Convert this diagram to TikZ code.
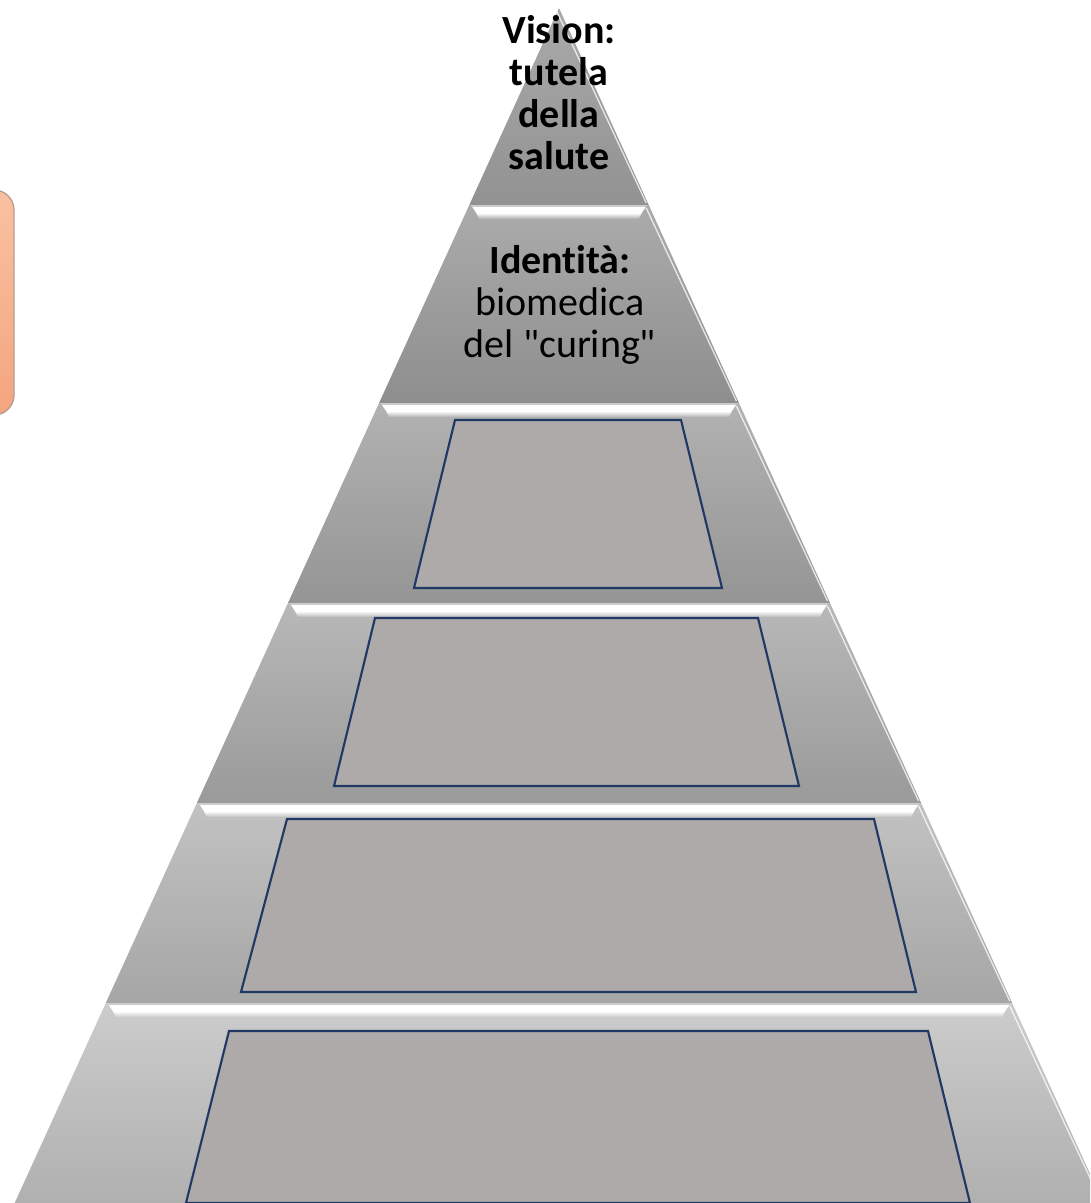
\documentclass[tikz,border=0pt]{standalone}
\usepackage{fontspec}
\setmainfont{Carlito}[Ligatures={TeX,NoCommon}]
\newfontfamily\carlplain{Carlito}[Ligatures=NoCommon]
\definecolor{navy}{HTML}{1F3864}
\definecolor{boxgray}{HTML}{AEAAAA}
\definecolor{bt1}{HTML}{AAAAAA}\definecolor{bb1}{HTML}{929292}
\definecolor{bt2}{HTML}{ABABAB}\definecolor{bb2}{HTML}{8E8E8E}
\definecolor{bt3}{HTML}{B2B2B2}\definecolor{bb3}{HTML}{959595}
\definecolor{bt4}{HTML}{B8B8B8}\definecolor{bb4}{HTML}{9A9A9A}
\definecolor{bt5}{HTML}{C2C2C2}\definecolor{bb5}{HTML}{A6A6A6}
\definecolor{bt6}{HTML}{CCCCCC}\definecolor{bb6}{HTML}{B0B0B0}
\definecolor{orTop}{HTML}{F9C1A2}
\definecolor{orBot}{HTML}{F4A57E}
\definecolor{orLine}{HTML}{B89C8E}
\begin{document}
\begin{tikzpicture}[x=0.75pt,y=-0.75pt,
  trapbox/.style={fill=boxgray, draw=navy, line width=1.6pt, line join=miter},
  lblbold/.style={align=center, inner sep=0pt, text=black, font=\carlplain\fontsize{30}{31.5}\selectfont\bfseries},
  lblreg/.style={align=center, inner sep=0pt, text=black, font=\carlplain\fontsize{30}{31.5}\selectfont}]
\useasboundingbox (0,0) rectangle (1090,1203);
\clip (0,0) rectangle (1090,1203);
% orange side box (mostly outside the page)
\shade[top color=orTop, bottom color=orBot, draw=orLine, line width=1pt, rounded corners=15pt]
  (-120,190) rectangle (14,415);
% pyramid bands
\foreach \i/\yt/\yb in {1/8/205,2/205/403,3/403/603,4/603/803,5/803/1003,6/1003/1203}{
  \pgfmathsetmacro\hwt{0.4555*(\yt-8)}
  \pgfmathsetmacro\hwb{0.4555*(\yb-8)}
  \shade[top color=bt\i, bottom color=bb\i]
    ({559-\hwt},\yt) -- ({559+\hwt},\yt) -- ({559+\hwb},\yb) -- ({559-\hwb},\yb) -- cycle;
  \draw[white, line width=1pt, opacity=0.75]
    ({559+\hwt-2.5},{\yt+3}) -- ({559+\hwb-2.5},{\yb-2});
}
% bevel highlights at the top of each lower band
\foreach \i/\yt in {2/205,3/403,4/603,5/803,6/1003}{
  \pgfmathsetmacro\hwt{0.4555*(\yt-8)}
  \fill[white!80!black]
    ({559-\hwt+1},{\yt}) -- ({559+\hwt-1},{\yt}) -- ({559+\hwt-3},{\yt+2}) -- ({559-\hwt+3},{\yt+2}) -- cycle;
  \fill[white]
    ({559-\hwt+3},{\yt+2}) -- ({559+\hwt-3},{\yt+2}) -- ({559+\hwt-7},{\yt+8}) -- ({559-\hwt+7},{\yt+8}) -- cycle;
  \shade[top color=white, bottom color=bt\i]
    ({559-\hwt+7},{\yt+8}) -- ({559+\hwt-7},{\yt+8}) -- ({559+\hwt-10},{\yt+14}) -- ({559-\hwt+10},{\yt+14}) -- cycle;
}
% overlaid trapezoids
\draw[trapbox] (455,420) -- (681,420) -- (722,588) -- (414,588) -- cycle;
\draw[trapbox] (375,618) -- (758,618) -- (799,786) -- (334,786) -- cycle;
\draw[trapbox] (287,819) -- (874,819) -- (916,992) -- (241,992) -- cycle;
\draw[trapbox] (229,1031) -- (928,1031) -- (970,1203) -- (186,1203) -- cycle;
% texts
\node[lblbold] (vision) at (559,93) {Vision:\\tutela\\della\\salute};
\node[lblreg] (identita) at (560,305) {\textbf{Identità:}\\biomedica\\del "curing"};
\end{tikzpicture}
\end{document}
